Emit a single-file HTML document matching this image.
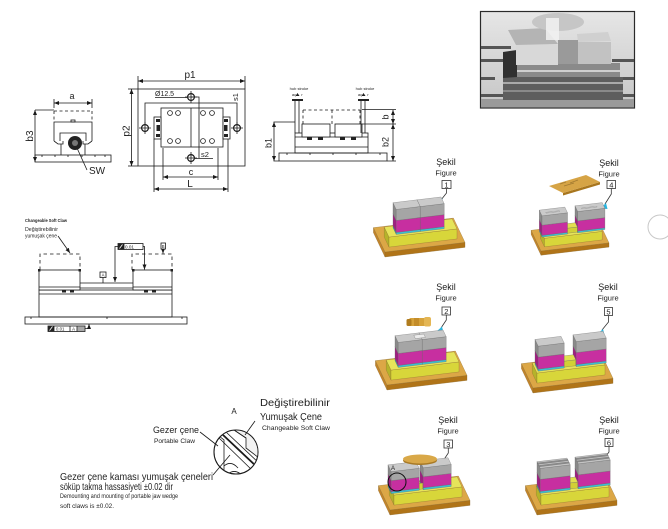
<!DOCTYPE html>
<html><head><meta charset="utf-8">
<style>
html,body{margin:0;padding:0;background:#fff;}
svg{display:block;}
text{font-family:"Liberation Sans",Arial,sans-serif;fill:#1e1e1e;}
.f rect,.f polygon{vector-effect:non-scaling-stroke;}
</style></head><body>
<svg width="668" height="529" viewBox="0 0 668 529" xmlns="http://www.w3.org/2000/svg">
<defs>
<marker id="ar" markerUnits="userSpaceOnUse" markerWidth="5" markerHeight="4" refX="5" refY="2" orient="auto-start-reverse"><path d="M0,0 L5,2 L0,4 z" fill="#1a1a1a"/></marker>
<linearGradient id="pg" x1="0" y1="0" x2="0" y2="1"><stop offset="0" stop-color="#e6e6e6"/><stop offset="1" stop-color="#c6c6c6"/></linearGradient>
<clipPath id="cc"><circle cx="236" cy="452" r="21.5"/></clipPath>
<g id="base" class="f" stroke="#8a6a30" stroke-width="0.3">
 <g transform="matrix(-0.2,-0.42,0,-1,0,0)"><rect x="0" y="-5" width="58" height="5" fill="#c2842a"/></g>
 <g transform="matrix(1,-0.12,0,-1,0,0)"><rect x="0" y="-5" width="80" height="5" fill="#b07418"/></g>
 <g transform="matrix(1,-0.12,-0.2,-0.42,0,0)"><rect x="0" y="0" width="80" height="58" fill="#dca746"/></g>
 <g transform="matrix(-0.2,-0.42,0,-1,6,-0.72)"><rect x="10" y="0" width="24" height="10" fill="#b5b32a"/></g>
 <g transform="matrix(1,-0.12,0,-1,-2,-4.2)"><rect x="6" y="0" width="68" height="10" fill="#d8d63a"/></g>
 <g transform="matrix(1,-0.12,-0.2,-0.42,0,-10)"><rect x="6" y="10" width="68" height="24" fill="#e6e45a"/></g>
</g>
</defs>

<!-- ===== PHOTO ===== -->
<rect x="480.5" y="11.5" width="154" height="96.5" fill="url(#pg)" stroke="#2a2a2a" stroke-width="1.2"/>
<g fill="#555">
<rect x="481" y="46" width="30" height="3"/><rect x="481" y="59" width="22" height="3"/><rect x="612" y="59" width="22" height="3"/>
<rect x="481" y="77" width="14" height="3"/><rect x="622" y="77" width="12" height="3"/>
<rect x="481" y="94" width="22" height="3"/><rect x="608" y="94" width="26" height="3"/>
</g>
<rect x="481" y="99" width="153" height="8.5" fill="#9a9a9a"/>
<rect x="503" y="77" width="120" height="23" fill="#5e5e5e"/>
<rect x="503" y="82" width="120" height="2" fill="#aaa"/>
<rect x="503" y="90" width="120" height="2" fill="#8a8a8a"/>
<rect x="505" y="63" width="115" height="14" fill="#8a8a8a"/>
<rect x="505" y="70" width="115" height="2" fill="#cfcfcf"/>
<polygon points="503,52 517,50 517,77 503,78" fill="#303030"/>
<polygon points="508,30 545,28 558,44 516,45" fill="#b4b4b4"/>
<rect x="516" y="45" width="42" height="20" fill="#d8d8d8"/>
<polygon points="577,34 608,32 611,41 578,42" fill="#d0d0d0"/>
<rect x="578" y="42" width="33" height="22" fill="#c2c2c2"/>
<rect x="558" y="40" width="20" height="24" fill="#9a9a9a"/>
<ellipse cx="558" cy="22" rx="26" ry="9" fill="#c6c6c6"/>
<rect x="546" y="18" width="13" height="22" fill="#f2f2f2" opacity="0.85"/>

<!-- ===== DRAWING 1 (front view) ===== -->
<g stroke="#1a1a1a" stroke-width="0.8" fill="none">
 <line x1="54" y1="99" x2="54" y2="108"/><line x1="92" y1="99" x2="92" y2="108"/>
 <line x1="54" y1="103" x2="92" y2="103" marker-start="url(#ar)" marker-end="url(#ar)"/>
 <path d="M54,111 H92 M54,111 V122 M92,111 V122" stroke-dasharray="3,2.5"/>
 <line x1="35" y1="110" x2="54" y2="110"/>
 <line x1="35" y1="110" x2="35" y2="162" marker-start="url(#ar)" marker-end="url(#ar)"/>
 <path d="M54,141 V122 H92 V141"/>
 <path d="M54,141 L58,144 H63 V141 M92,141 L88,144 H83 V141"/>
 <path d="M60,141 V133 H86 V141"/>
 <path d="M61,144 V155 M85,144 V155"/>
 <rect x="71" y="120" width="4" height="2"/>
 <rect x="35" y="155" width="76" height="7"/>
 <path d="M42,155 v2 M55,155 v2 M68,155 v2 M82,155 v2 M95,155 v2 M105,155 v2"/>
 <path d="M77,148 L87,170"/>
</g>
<circle cx="75" cy="143" r="7" fill="#222"/>
<circle cx="75" cy="143" r="3" fill="#777"/>
<text x="72" y="99" font-size="9" text-anchor="middle">a</text>
<text transform="translate(33,136) rotate(-90)" font-size="10" text-anchor="middle">b3</text>
<text x="89" y="174" font-size="10">SW</text>

<!-- ===== DRAWING 2 (top view) ===== -->
<g stroke="#1a1a1a" stroke-width="0.8" fill="none">
 <line x1="138" y1="76" x2="138" y2="89"/><line x1="245" y1="76" x2="245" y2="89"/>
 <line x1="138" y1="81" x2="245" y2="81" marker-start="url(#ar)" marker-end="url(#ar)"/>
 <rect x="138" y="89" width="107" height="77"/>
 <line x1="128" y1="89" x2="138" y2="89"/><line x1="128" y1="166" x2="138" y2="166"/>
 <line x1="131.5" y1="89" x2="131.5" y2="166" marker-start="url(#ar)" marker-end="url(#ar)"/>
 <path d="M145,124 V103 H237 V124"/>
 <rect x="161" y="108" width="62" height="39" fill="#fff"/>
 <line x1="191" y1="108" x2="191" y2="147"/>
 <rect x="154" y="117" width="7" height="22" fill="#fff"/>
 <rect x="223" y="117" width="7" height="22" fill="#fff"/>
 <circle cx="170" cy="113" r="2.4"/><circle cx="178" cy="113" r="2.4"/>
 <circle cx="170" cy="141" r="2.4"/><circle cx="178" cy="141" r="2.4"/>
 <circle cx="203" cy="113" r="2.4"/><circle cx="212" cy="113" r="2.4"/>
 <circle cx="203" cy="141" r="2.4"/><circle cx="212" cy="141" r="2.4"/>
 <circle cx="191" cy="97" r="3.4" fill="#fff" stroke-width="1.2"/>
 <circle cx="191" cy="158" r="3.4" fill="#fff" stroke-width="1.2"/>
 <circle cx="145" cy="128" r="3.4" fill="#fff" stroke-width="1.2"/>
 <circle cx="237" cy="128" r="3.4" fill="#fff" stroke-width="1.2"/>
 <path d="M185,97 H197 M191,91 V103 M185,158 H197 M191,152 V164 M139,128 H151 M145,122 V134 M231,128 H243 M237,122 V134"/>
 <path d="M155,97.5 H187"/>
 <path d="M191,97 H199 V158"/>
 <path d="M195,158.5 H213"/>
 <line x1="163" y1="148" x2="163" y2="180"/><line x1="218" y1="148" x2="218" y2="180"/>
 <line x1="163" y1="177" x2="218" y2="177" marker-start="url(#ar)" marker-end="url(#ar)"/>
 <line x1="154" y1="139" x2="154" y2="192"/><line x1="228" y1="139" x2="228" y2="192"/>
 <line x1="154" y1="189" x2="228" y2="189" marker-start="url(#ar)" marker-end="url(#ar)"/>
</g>
<g fill="#222"><rect x="156.5" y="125" width="3.5" height="6"/><rect x="224" y="125" width="3.5" height="6"/>
<rect x="156" y="119" width="4" height="3"/><rect x="156" y="134" width="4" height="3"/><rect x="224" y="119" width="4" height="3"/><rect x="224" y="134" width="4" height="3"/></g>
<text x="190" y="78" font-size="10" text-anchor="middle">p1</text>
<text transform="translate(129.5,131) rotate(-90)" font-size="10" text-anchor="middle">p2</text>
<text x="155" y="96" font-size="7">Ø12.5</text>
<text transform="translate(238,97) rotate(-90)" font-size="7.5" text-anchor="middle">s1</text>
<text x="201" y="157" font-size="7.5">s2</text>
<text x="191" y="175" font-size="9" text-anchor="middle">c</text>
<text x="190" y="187" font-size="10" text-anchor="middle">L</text>

<!-- ===== DRAWING 3 (side view) ===== -->
<g stroke="#1a1a1a" stroke-width="0.8" fill="none">
 <rect x="279" y="153" width="108" height="8"/>
 <path d="M287,153 v2 M310,153 v2 M333,153 v2 M356,153 v2 M380,153 v2"/>
 <rect x="295" y="133" width="73" height="20"/>
 <path d="M295,137 H368 M295,147 H368"/>
 <rect x="302" y="124" width="28" height="13" fill="#fff"/>
 <rect x="335" y="124" width="27" height="13" fill="#fff"/>
 <path d="M303,110 H360 M332,110 V124 M303,110 V124 M360,110 V124" stroke-dasharray="3,2.5"/>
 <path d="M295,100 V133 M299,100 V133 M361,100 V133 M365,100 V133"/>
 <path d="M273.5,122 H295 M273.5,161 H279"/>
 <line x1="274" y1="122" x2="274" y2="161" marker-start="url(#ar)" marker-end="url(#ar)"/>
 <path d="M362,109.5 H396 M362,124 H396 M387,161 H396"/>
 <line x1="393" y1="110" x2="393" y2="124" marker-start="url(#ar)" marker-end="url(#ar)"/>
 <line x1="393" y1="124" x2="393" y2="161" marker-start="url(#ar)" marker-end="url(#ar)"/>
</g>
<g fill="#222">
 <rect x="292" y="99" width="11" height="2"/><rect x="358" y="99" width="11" height="2"/>
 <rect x="307" y="137" width="5" height="3"/><rect x="318" y="137" width="5" height="3"/>
 <rect x="340" y="137" width="5" height="3"/><rect x="351" y="137" width="5" height="3"/>
 <polygon points="297.5,93 299.5,96 295.5,96"/><polygon points="363.5,93 365.5,96 361.5,96"/>
</g>
<text x="299" y="90" font-size="4" text-anchor="middle" fill="#444">hub stroke</text>
<text x="365" y="90" font-size="4" text-anchor="middle" fill="#444">hub stroke</text>
<text x="294" y="96" font-size="4" text-anchor="middle" fill="#444">aç</text>
<text x="302" y="96" font-size="4" text-anchor="middle" fill="#444">r</text>
<text x="360" y="96" font-size="4" text-anchor="middle" fill="#444">aç</text>
<text x="368" y="96" font-size="4" text-anchor="middle" fill="#444">r</text>
<text transform="translate(271.5,143) rotate(-90)" font-size="9" text-anchor="middle">b1</text>
<text transform="translate(388.5,117) rotate(-90)" font-size="9" text-anchor="middle">b</text>
<text transform="translate(388.5,142) rotate(-90)" font-size="9" text-anchor="middle">b2</text>

<!-- ===== DRAWING 4 (middle left) ===== -->
<text x="25" y="222" font-size="4.8" font-weight="bold" textLength="42" lengthAdjust="spacingAndGlyphs">Changeable Soft Claw</text>
<text x="25" y="231" font-size="5" fill="#555" textLength="33" lengthAdjust="spacingAndGlyphs">Değiştirebilinir</text>
<text x="25" y="237.5" font-size="5" fill="#555" textLength="32" lengthAdjust="spacingAndGlyphs">yumuşak çene</text>
<g stroke="#1a1a1a" stroke-width="0.8" fill="none">
 <line x1="58" y1="236" x2="70" y2="253" marker-end="url(#ar)"/>
 <path d="M40,270 V254 H80 V270 M132,270 V254 H172 V270" stroke-dasharray="3.5,3"/>
 <rect x="25" y="317" width="162" height="7"/>
 <path d="M31,317 v2 M107,317 v2 M182,317 v2"/>
 <rect x="39" y="290" width="133" height="27"/>
 <path d="M39,294 H172"/>
 <rect x="39" y="270" width="41" height="20" fill="#fff"/>
 <rect x="133" y="270" width="39" height="20" fill="#fff"/>
 <path d="M39,287 H80 M133,287 H172"/>
 <path d="M80,283 H133 M80,288 H133"/>
 <path d="M118,246.5 H115 V282" marker-end="url(#ar)"/>
 <path d="M143,246.5 H144.5 V269.5" marker-end="url(#ar)"/>
 <path d="M163,249.5 V253.5" marker-end="url(#ar)"/>
 <path d="M103,277.5 V283"/>
 <path d="M85,328.5 H89 V324" marker-end="url(#ar)"/>
 <rect x="118" y="243.5" width="25" height="6" fill="#fff"/>
 <rect x="161" y="243" width="4.5" height="6" fill="#fff"/>
 <rect x="100" y="272" width="6" height="5.5" fill="#fff"/>
 <rect x="48" y="326" width="37" height="5.5" fill="#fff"/>
 <path d="M124,243.5 V249.5 M54,326 V331.5 M70,326 V331.5 M77,326 V331.5"/>
</g>
<g fill="#222">
 <rect x="118" y="243.5" width="6" height="6"/><rect x="48" y="326" width="6" height="5.5"/>
 <rect x="38" y="269" width="2.5" height="2.5"/><rect x="78.5" y="269" width="2.5" height="2.5"/>
 <rect x="132" y="269" width="2.5" height="2.5"/><rect x="170.5" y="269" width="2.5" height="2.5"/>
 <rect x="62" y="290" width="4" height="2.5"/><rect x="70" y="290" width="4" height="2.5"/>
 <rect x="144" y="290" width="4" height="2.5"/><rect x="152" y="290" width="4" height="2.5"/>
</g>
<rect x="77.5" y="326.5" width="7" height="4.5" fill="#aaa"/>
<path d="M119.5,248.5 L122.5,244.5 M49.5,330.5 L52.5,326.5" stroke="#fff" stroke-width="0.8"/>
<text x="125" y="248.6" font-size="4.6">0.01</text>
<text x="56" y="330.5" font-size="4.3">0.01</text>
<text x="73.5" y="330.5" font-size="4.3" text-anchor="middle">A</text>
<text x="103" y="276.5" font-size="4.3" text-anchor="middle">A</text>
<text x="163.2" y="248" font-size="4.3" text-anchor="middle">B</text>

<!-- ===== DETAIL A ===== -->
<text x="260" y="406" font-size="10" fill="#2a3040" textLength="70" lengthAdjust="spacingAndGlyphs">Değiştirebilinir</text>
<text x="260" y="420" font-size="10" fill="#2a3040" textLength="62" lengthAdjust="spacingAndGlyphs">Yumuşak Çene</text>
<text x="262" y="430" font-size="6.5" textLength="68" lengthAdjust="spacingAndGlyphs">Changeable Soft Claw</text>
<text x="234" y="414" font-size="8" text-anchor="middle">A</text>
<text x="153" y="433" font-size="9.5" textLength="46" lengthAdjust="spacingAndGlyphs">Gezer çene</text>
<text x="154" y="443" font-size="6.5" textLength="41" lengthAdjust="spacingAndGlyphs">Portable Claw</text>
<text x="60" y="480" font-size="10.5" textLength="153" lengthAdjust="spacingAndGlyphs">Gezer çene kaması yumuşak çeneleri</text>
<text x="60" y="490" font-size="10.5" textLength="113" lengthAdjust="spacingAndGlyphs">söküp takma hassasiyeti  ±0.02 dir</text>
<text x="60" y="498" font-size="6.5" textLength="118" lengthAdjust="spacingAndGlyphs">Demounting and mounting of portable jaw wedge</text>
<text x="60" y="508" font-size="6.5" textLength="54" lengthAdjust="spacingAndGlyphs">soft claws is ±0.02.</text>
<circle cx="236" cy="452" r="22" fill="#fff" stroke="#1a1a1a" stroke-width="1.1"/>
<g clip-path="url(#cc)" stroke="#1a1a1a" stroke-width="0.8" fill="none">
 <path d="M231,428 L247,425 L259,436 L259,458 L246,448 L246,438 Z" fill="#f2f2f2"/>
 <path d="M246,438 L231,428"/>
 <path d="M219,436 L224,440 L224,480"/>
 <path d="M222,434 L258,468" stroke-width="1.8"/>
 <path d="M226,432 L261,465"/>
 <path d="M219,438 L254,472"/>
 <path d="M224,466 Q231,460 238,468 M228,474 Q235,468 243,476"/>
</g>
<g stroke="#1a1a1a" stroke-width="0.8" fill="none">
 <path d="M200,432 L218,446"/>
 <path d="M255,421 L245,435"/>
 <path d="M213,475 L230,455"/>
</g>

<!-- ===== FIGURES ===== -->
<g font-size="9">
<text x="446" y="165" text-anchor="middle">Şekil</text>
<text x="446" y="175.5" font-size="7.5" text-anchor="middle">Figure</text>
<text x="609" y="166" text-anchor="middle">Şekil</text>
<text x="609" y="176.5" font-size="7.5" text-anchor="middle">Figure</text>
<text x="446" y="290" text-anchor="middle">Şekil</text>
<text x="446" y="300.5" font-size="7.5" text-anchor="middle">Figure</text>
<text x="608" y="290" text-anchor="middle">Şekil</text>
<text x="608" y="300.5" font-size="7.5" text-anchor="middle">Figure</text>
<text x="448" y="423" text-anchor="middle">Şekil</text>
<text x="448" y="433.5" font-size="7.5" text-anchor="middle">Figure</text>
<text x="609" y="423" text-anchor="middle">Şekil</text>
<text x="609" y="433.5" font-size="7.5" text-anchor="middle">Figure</text>
</g>
<g fill="#fff" stroke="#333" stroke-width="0.8">
<rect x="442" y="180.5" width="9" height="8"/><rect x="607" y="180.5" width="8.5" height="8"/>
<rect x="442" y="307" width="8.5" height="8"/><rect x="604.5" y="307.5" width="8" height="8"/>
<rect x="444" y="440" width="8.5" height="8"/><rect x="605" y="438.5" width="8" height="8"/>
</g>
<g font-size="7.5" text-anchor="middle">
<text x="446.5" y="187.5">1</text><text x="611.3" y="187.5">4</text>
<text x="446.3" y="314">2</text><text x="608.5" y="314.5">5</text>
<text x="448.3" y="447">3</text><text x="609" y="445.5">6</text>
</g>
<g stroke="#333" stroke-width="0.8" fill="none">
<path d="M446.5,188.5 V193 L441,200"/>
<path d="M611.3,188.5 V194 L605,204"/>
<path d="M446.3,315 V320 L441,328"/>
<path d="M608.5,315.5 V322 L602,330"/>
<path d="M448.3,448 V453 L443,461"/>
<path d="M609,446.5 V452 L603,460"/>
</g>
<g fill="#2ab6e0">
<polygon points="436,203.5 442,198 443.5,204.5"/>
<polygon points="600,208.5 606,203 607.5,209"/>
<polygon points="436,332 442,326.5 443.5,333"/>
<polygon points="597,334.5 603,329 604.5,335"/>
<polygon points="438,465.5 444,460 445.5,466.5"/>
<polygon points="598,464.5 604,459 605.5,465.5"/>
</g>

<!-- Fig 1 -->
<g transform="translate(385,252)" class="f" stroke="#666" stroke-width="0.3">
 <use href="#base"/>
 <g transform="matrix(-0.2,-0.42,0,-1,38,-4.56)"><rect x="14" y="10" width="16" height="2" fill="#2a9fb0"/><rect x="14" y="12" width="16" height="12" fill="#9e1f80"/><rect x="14" y="24" width="16" height="11" fill="#8a8a8a"/></g>
 <g transform="matrix(1,-0.12,0,-1,-2.8,-5.88)"><rect x="38" y="10" width="24" height="2" fill="#3dc0d2"/><rect x="38" y="12" width="24" height="12" fill="#c72fa0"/><rect x="38" y="24" width="24" height="11" fill="#a5a5a5"/></g>
 <g transform="matrix(1,-0.12,-0.2,-0.42,0,-35)"><rect x="38" y="14" width="24" height="16" fill="#cacaca"/></g>
 <g transform="matrix(-0.2,-0.42,0,-1,14,-1.68)"><rect x="14" y="10" width="16" height="2" fill="#2a9fb0"/><rect x="14" y="12" width="16" height="12" fill="#9e1f80"/><rect x="14" y="24" width="16" height="11" fill="#8a8a8a"/></g>
 <g transform="matrix(1,-0.12,0,-1,-2.8,-5.88)"><rect x="14" y="10" width="24" height="2" fill="#3dc0d2"/><rect x="14" y="12" width="24" height="12" fill="#c72fa0"/><rect x="14" y="24" width="24" height="11" fill="#a5a5a5"/></g>
 <g transform="matrix(1,-0.12,-0.2,-0.42,0,-35)"><rect x="14" y="14" width="24" height="16" fill="#cacaca"/></g>
</g>

<!-- Fig 2 -->
<g transform="translate(387,385)" class="f" stroke="#666" stroke-width="0.3">
 <use href="#base"/>
 <g transform="matrix(-0.2,-0.42,0,-1,38,-4.56)"><rect x="14" y="10" width="16" height="2" fill="#2a9fb0"/><rect x="14" y="12" width="16" height="12" fill="#9e1f80"/><rect x="14" y="24" width="16" height="11" fill="#8a8a8a"/></g>
 <g transform="matrix(1,-0.12,0,-1,-2.8,-5.88)"><rect x="38" y="10" width="24" height="2" fill="#3dc0d2"/><rect x="38" y="12" width="24" height="12" fill="#c72fa0"/><rect x="38" y="24" width="24" height="11" fill="#a5a5a5"/></g>
 <g transform="matrix(1,-0.12,-0.2,-0.42,0,-35)"><rect x="38" y="14" width="24" height="16" fill="#cacaca"/></g>
 <g transform="matrix(-0.2,-0.42,0,-1,14,-1.68)"><rect x="14" y="10" width="16" height="2" fill="#2a9fb0"/><rect x="14" y="12" width="16" height="12" fill="#9e1f80"/><rect x="14" y="24" width="16" height="11" fill="#8a8a8a"/></g>
 <g transform="matrix(1,-0.12,0,-1,-2.8,-5.88)"><rect x="14" y="10" width="24" height="2" fill="#3dc0d2"/><rect x="14" y="12" width="24" height="12" fill="#c72fa0"/><rect x="14" y="24" width="24" height="11" fill="#a5a5a5"/></g>
 <g transform="matrix(1,-0.12,-0.2,-0.42,0,-35)"><rect x="14" y="14" width="24" height="16" fill="#cacaca"/><rect x="32" y="18" width="10" height="8" fill="#ececec"/></g>
</g>
<g>
 <rect x="409" y="318" width="20" height="8" rx="2" fill="#d6a23a"/>
 <rect x="406.5" y="319" width="5" height="7" rx="1.5" fill="#b07c1e"/>
 <rect x="424" y="317" width="7" height="9.5" rx="2" fill="#e4b654"/>
 <rect x="414" y="318" width="5" height="8" fill="#c48d2a"/>
</g>

<!-- Fig 3 -->
<g transform="translate(390,510)" class="f" stroke="#666" stroke-width="0.3">
 <use href="#base"/>
 <g transform="matrix(-0.2,-0.42,0,-1,36,-4.32)"><rect x="14" y="10" width="16" height="2" fill="#2a9fb0"/><rect x="14" y="12" width="16" height="11" fill="#9e1f80"/><rect x="14" y="23" width="16" height="9" fill="#8a8a8a"/></g>
 <g transform="matrix(1,-0.12,0,-1,-2.8,-5.88)"><rect x="36" y="10" width="28" height="2" fill="#3dc0d2"/><rect x="36" y="12" width="28" height="11" fill="#c72fa0"/><rect x="36" y="23" width="28" height="9" fill="#a5a5a5"/></g>
 <g transform="matrix(1,-0.12,-0.2,-0.42,0,-32)"><rect x="36" y="14" width="28" height="16" fill="#cacaca"/></g>
 <g transform="matrix(1,-0.12,0,-1,-3.2,-6.72)"><rect x="32" y="10" width="4" height="6" fill="#d2d035"/></g>
 <g transform="matrix(-0.2,-0.42,0,-1,4,-0.48)"><rect x="14" y="10" width="16" height="2" fill="#2a9fb0"/><rect x="14" y="12" width="16" height="11" fill="#9e1f80"/><rect x="14" y="23" width="16" height="9" fill="#8a8a8a"/></g>
 <g transform="matrix(1,-0.12,0,-1,-2.8,-5.88)"><rect x="4" y="10" width="28" height="2" fill="#3dc0d2"/><rect x="4" y="12" width="28" height="11" fill="#c72fa0"/><rect x="4" y="23" width="28" height="9" fill="#a5a5a5"/></g>
 <g transform="matrix(1,-0.12,-0.2,-0.42,0,-32)"><rect x="4" y="14" width="28" height="16" fill="#cacaca"/></g>
</g>
<ellipse cx="420" cy="460.5" rx="17" ry="4.5" fill="#a87a26"/>
<ellipse cx="420" cy="459" rx="17" ry="4.5" fill="#d9a848"/>
<circle cx="397" cy="482" r="9" fill="none" stroke="#111" stroke-width="1"/>
<text x="391" y="470" font-size="6">A</text>

<!-- Fig 4 -->
<polygon points="563,193 600,182 600,184.5 563,195.5" fill="#a8761e"/>
<polygon points="549,186 586,175 600,182 563,193" fill="#d6a446"/>
<path d="M560,184 l6,-2 m4,1 l8,-3 m-14,6 l10,-3" stroke="#a27a30" stroke-width="0.8"/>
<g transform="translate(541,251) scale(0.85)" class="f" stroke="#666" stroke-width="0.3">
 <use href="#base"/>
 <g transform="matrix(-0.2,-0.42,0,-1,46,-5.52)"><rect x="14" y="10" width="16" height="2" fill="#2a9fb0"/><rect x="14" y="12" width="16" height="12" fill="#9e1f80"/><rect x="14" y="24" width="16" height="11" fill="#8a8a8a"/></g>
 <g transform="matrix(1,-0.12,0,-1,-2.8,-5.88)"><rect x="46" y="10" width="32" height="2" fill="#3dc0d2"/><rect x="46" y="12" width="32" height="12" fill="#c72fa0"/><rect x="46" y="24" width="32" height="11" fill="#a5a5a5"/></g>
 <g transform="matrix(1,-0.12,-0.2,-0.42,0,-35)"><rect x="46" y="14" width="32" height="16" fill="#cacaca"/><rect x="52" y="20" width="18" height="2" fill="#f4f4f4"/></g>
 <g transform="matrix(1,-0.12,0,-1,-3.2,-6.72)"><rect x="34" y="10" width="12" height="6" fill="#d2d035"/></g>
 <g transform="matrix(1,-0.12,-0.2,-0.42,0,-16)"><rect x="34" y="16" width="12" height="12" fill="#e2e050"/></g>
 <g transform="matrix(-0.2,-0.42,0,-1,4,-0.48)"><rect x="14" y="10" width="16" height="2" fill="#2a9fb0"/><rect x="14" y="12" width="16" height="12" fill="#9e1f80"/><rect x="14" y="24" width="16" height="11" fill="#8a8a8a"/></g>
 <g transform="matrix(1,-0.12,0,-1,-2.8,-5.88)"><rect x="4" y="10" width="30" height="2" fill="#3dc0d2"/><rect x="4" y="12" width="30" height="12" fill="#c72fa0"/><rect x="4" y="24" width="30" height="11" fill="#a5a5a5"/></g>
 <g transform="matrix(1,-0.12,-0.2,-0.42,0,-35)"><rect x="4" y="14" width="30" height="16" fill="#cacaca"/><rect x="10" y="20" width="16" height="2" fill="#f4f4f4"/></g>
</g>

<!-- Fig 5 -->
<g transform="translate(533,388)" class="f" stroke="#666" stroke-width="0.3">
 <use href="#base"/>
 <g transform="matrix(-0.2,-0.42,0,-1,46,-5.52)"><rect x="14" y="10" width="16" height="2" fill="#2a9fb0"/><rect x="14" y="12" width="16" height="12" fill="#9e1f80"/><rect x="14" y="24" width="16" height="11" fill="#8a8a8a"/></g>
 <g transform="matrix(1,-0.12,0,-1,-2.8,-5.88)"><rect x="46" y="10" width="30" height="2" fill="#3dc0d2"/><rect x="46" y="12" width="30" height="12" fill="#c72fa0"/><rect x="46" y="24" width="30" height="11" fill="#a5a5a5"/></g>
 <g transform="matrix(1,-0.12,-0.2,-0.42,0,-35)"><rect x="46" y="14" width="30" height="16" fill="#cacaca"/></g>
 <g transform="matrix(1,-0.12,0,-1,-3.2,-6.72)"><rect x="34" y="10" width="12" height="6" fill="#d2d035"/></g>
 <g transform="matrix(1,-0.12,-0.2,-0.42,0,-16)"><rect x="34" y="16" width="12" height="12" fill="#e2e050"/></g>
 <g transform="matrix(-0.2,-0.42,0,-1,8,-0.96)"><rect x="14" y="10" width="16" height="2" fill="#2a9fb0"/><rect x="14" y="12" width="16" height="12" fill="#9e1f80"/><rect x="14" y="24" width="16" height="11" fill="#8a8a8a"/></g>
 <g transform="matrix(1,-0.12,0,-1,-2.8,-5.88)"><rect x="8" y="10" width="26" height="2" fill="#3dc0d2"/><rect x="8" y="12" width="26" height="12" fill="#c72fa0"/><rect x="8" y="24" width="26" height="11" fill="#a5a5a5"/></g>
 <g transform="matrix(1,-0.12,-0.2,-0.42,0,-35)"><rect x="8" y="14" width="26" height="16" fill="#cacaca"/></g>
</g>

<!-- Fig 6 -->
<g transform="translate(537,510)" class="f" stroke="#666" stroke-width="0.3">
 <use href="#base"/>
 <g transform="matrix(-0.2,-0.42,0,-1,44,-5.28)"><rect x="14" y="10" width="16" height="2" fill="#2a9fb0"/><rect x="14" y="12" width="16" height="12" fill="#9e1f80"/><rect x="14" y="24" width="16" height="11" fill="#8a8a8a"/></g>
 <g transform="matrix(1,-0.12,0,-1,-2.8,-5.88)"><rect x="44" y="10" width="32" height="2" fill="#3dc0d2"/><rect x="44" y="12" width="32" height="12" fill="#c72fa0"/><rect x="44" y="24" width="32" height="11" fill="#a5a5a5"/></g>
 <g transform="matrix(1,-0.12,-0.2,-0.42,0,-35)"><rect x="44" y="14" width="32" height="16" fill="#c4c4c4"/><rect x="44" y="18" width="32" height="3" fill="#8e8e8e"/><rect x="44" y="24" width="32" height="3" fill="#8e8e8e"/></g>
 <g transform="matrix(1,-0.12,0,-1,-3.2,-6.72)"><rect x="36" y="10" width="8" height="6" fill="#d2d035"/></g>
 <g transform="matrix(1,-0.12,-0.2,-0.42,0,-16)"><rect x="36" y="16" width="8" height="12" fill="#e2e050"/></g>
 <g transform="matrix(-0.2,-0.42,0,-1,6,-0.72)"><rect x="14" y="10" width="16" height="2" fill="#2a9fb0"/><rect x="14" y="12" width="16" height="12" fill="#9e1f80"/><rect x="14" y="24" width="16" height="11" fill="#8a8a8a"/></g>
 <g transform="matrix(1,-0.12,0,-1,-2.8,-5.88)"><rect x="6" y="10" width="30" height="2" fill="#3dc0d2"/><rect x="6" y="12" width="30" height="12" fill="#c72fa0"/><rect x="6" y="24" width="30" height="11" fill="#a5a5a5"/></g>
 <g transform="matrix(1,-0.12,-0.2,-0.42,0,-35)"><rect x="6" y="14" width="30" height="16" fill="#c4c4c4"/><rect x="6" y="18" width="30" height="3" fill="#8e8e8e"/><rect x="6" y="24" width="30" height="3" fill="#8e8e8e"/></g>
</g>

<!-- right edge circle -->
<circle cx="660" cy="227" r="12" fill="none" stroke="#c8c8c8" stroke-width="1"/>
</svg>
</body></html>
